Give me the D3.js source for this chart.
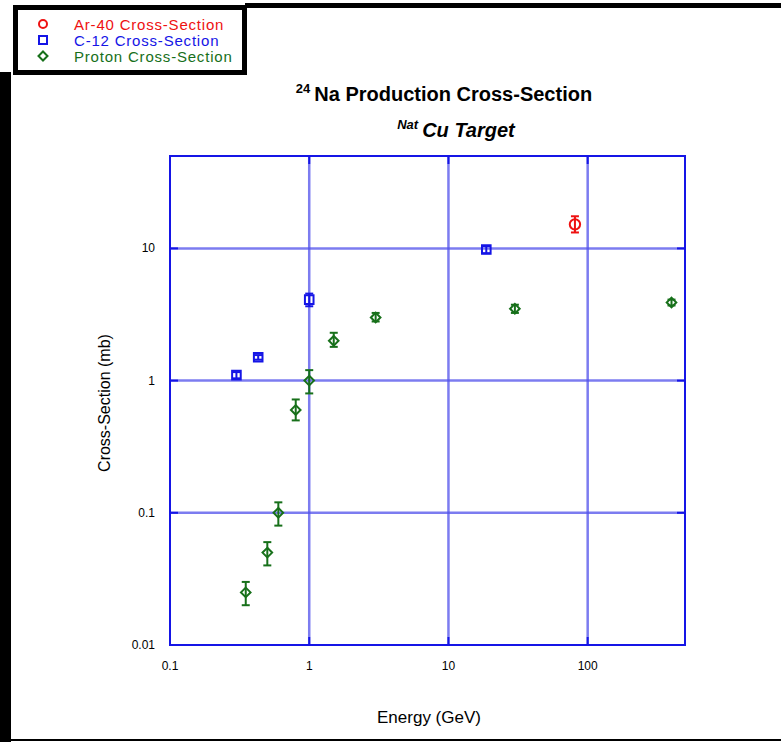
<!DOCTYPE html>
<html>
<head>
<meta charset="utf-8">
<script src="https://cdn.jsdelivr.net/npm/d3@7/dist/d3.min.js"></script>
<style>
  html, body { margin: 0; padding: 0; background: #fff; }
  svg { display: block; font-family: "Liberation Sans", Arial, sans-serif; }
</style>
</head>
<body>
<svg id="chart" width="781" height="742"></svg>
<script>
// 24Na production cross-section on a natural Cu target
const xTicks = [0.1, 1, 10, 100];
const yTicks = [0.01, 0.1, 1, 10];
const xTickLabels = ["0.1", "1", "10", "100"];
const yTickLabels = ["0.01", "0.1", "1", "10"];

const arEnergy = [81];
const arSigma  = [15.2];
const arLo     = [13.2];
const arHi     = [17.5];

const cEnergy = [0.3, 0.43, 1.0, 18.7];
const cSigma  = [1.1, 1.5, 4.1, 9.8];
const cLo     = [1.04, 1.44, 3.65, 9.2];
const cHi     = [1.16, 1.56, 4.55, 10.4];

const pEnergy = [0.35, 0.5, 0.6, 0.8, 1.0, 1.5, 3.0, 30, 400];
const pSigma  = [0.025, 0.05, 0.1, 0.6, 1.0, 2.0, 3.0, 3.5, 3.9];
const pLo     = [0.02, 0.04, 0.08, 0.5, 0.8, 1.8, 2.8, 3.25, 3.7];
const pHi     = [0.03, 0.06, 0.12, 0.72, 1.2, 2.3, 3.25, 3.75, 4.1];

const seriesNames  = ["Ar-40 Cross-Section", "C-12 Cross-Section", "Proton Cross-Section"];
const seriesColors = ["#ee1111", "#1515e6", "#17701a"];

const svg = d3.select("#chart");
const plot = { left: 170, right: 685, top: 156, bottom: 645 };

const x = d3.scaleLog().domain([0.1, 500]).range([plot.left, plot.right]);
const y = d3.scaleLog().domain([0.01, 50]).range([plot.bottom, plot.top]);

// marker shapes: circle, square, square-rotated diamond
const shapeCircle  = r => d3.symbol().type(d3.symbolCircle).size(Math.PI * r * r)();
const shapeSquare  = h => `M${-h},${-h}H${h}V${h}H${-h}Z`;
const shapeDiamond = h => `M0,${-h}L${h},0L0,${h}L${-h},0Z`;

// page frame
svg.append("rect").attr("x", 0).attr("y", 72).attr("width", 11).attr("height", 670).attr("fill", "#000");
svg.append("rect").attr("x", 245).attr("y", 3).attr("width", 536).attr("height", 5).attr("fill", "#000");
svg.append("rect").attr("x", 0).attr("y", 739).attr("width", 781).attr("height", 2).attr("fill", "#000");

// legend box
svg.append("rect").attr("x", 15.5).attr("y", 7.5).attr("width", 229).attr("height", 65)
  .attr("fill", "#fff").attr("stroke", "#000").attr("stroke-width", 5);

// gridlines
const gridColor = "rgba(80,80,235,0.75)";
svg.append("g").selectAll("line").data(xTicks.filter(d => d > 0.1)).join("line")
  .attr("x1", d => x(d)).attr("x2", d => x(d))
  .attr("y1", plot.top).attr("y2", plot.bottom)
  .attr("stroke", gridColor).attr("stroke-width", 2.5);
svg.append("g").selectAll("line").data(yTicks.filter(d => d > 0.01)).join("line")
  .attr("x1", plot.left).attr("x2", plot.right)
  .attr("y1", d => y(d)).attr("y2", d => y(d))
  .attr("stroke", gridColor).attr("stroke-width", 2.5);

// plot frame
svg.append("rect").attr("x", plot.left).attr("y", plot.top)
  .attr("width", plot.right - plot.left).attr("height", plot.bottom - plot.top)
  .attr("fill", "none").attr("stroke", "#1515e6").attr("stroke-width", 2);

// major ticks, drawn inward
const tickG = svg.append("g").attr("stroke", "#1515e6").attr("stroke-width", 2);
yTicks.forEach(t => {
  tickG.append("line").attr("x1", plot.left).attr("x2", plot.left + 8).attr("y1", y(t)).attr("y2", y(t));
  tickG.append("line").attr("x1", plot.right).attr("x2", plot.right - 8).attr("y1", y(t)).attr("y2", y(t));
});
xTicks.forEach(t => {
  tickG.append("line").attr("x1", x(t)).attr("x2", x(t)).attr("y1", plot.top).attr("y2", plot.top + 8);
  tickG.append("line").attr("x1", x(t)).attr("x2", x(t)).attr("y1", plot.bottom).attr("y2", plot.bottom - 8);
});

// tick labels
svg.append("g").selectAll("text").data(xTicks).join("text")
  .attr("x", d => x(d)).attr("y", 670).attr("text-anchor", "middle")
  .attr("font-size", 12).attr("fill", "#000")
  .text((d, i) => xTickLabels[i]);
svg.append("g").selectAll("text").data(yTicks).join("text")
  .attr("x", 155).attr("y", d => y(d) + 4).attr("text-anchor", "end")
  .attr("font-size", 12).attr("fill", "#000")
  .text((d, i) => yTickLabels[i]);

// axis titles
svg.append("text").attr("x", 429).attr("y", 723).attr("text-anchor", "middle")
  .attr("font-size", 17).text("Energy (GeV)");
svg.append("text").attr("transform", "translate(110,403) rotate(-90)")
  .attr("text-anchor", "middle").attr("font-size", 16).text("Cross-Section (mb)");

// titles
const t1 = svg.append("text").attr("x", 444).attr("y", 101).attr("text-anchor", "middle")
  .attr("font-weight", "bold").attr("font-size", 20);
t1.append("tspan").attr("font-size", 13).attr("dy", -8).text("24");
t1.append("tspan").attr("dy", 8).text("\u2009Na Production Cross-Section");
const t2 = svg.append("text").attr("x", 456).attr("y", 137).attr("text-anchor", "middle")
  .attr("font-weight", "bold").attr("font-style", "italic").attr("font-size", 20);
t2.append("tspan").attr("font-size", 13).attr("dy", -8).text("Nat");
t2.append("tspan").attr("dy", 8).text("\u2009Cu Target");

// data series
function errorBars(g, ex, lo, hi, color) {
  const cap = 4;
  const idx = d3.range(ex.length);
  g.selectAll("line.v").data(idx).join("line").attr("class", "v")
    .attr("x1", i => x(ex[i])).attr("x2", i => x(ex[i]))
    .attr("y1", i => y(lo[i])).attr("y2", i => y(hi[i]))
    .attr("stroke", color).attr("stroke-width", 2);
  g.selectAll("line.hi").data(idx).join("line").attr("class", "hi")
    .attr("x1", i => x(ex[i]) - cap).attr("x2", i => x(ex[i]) + cap)
    .attr("y1", i => y(hi[i])).attr("y2", i => y(hi[i]))
    .attr("stroke", color).attr("stroke-width", 2);
  g.selectAll("line.lo").data(idx).join("line").attr("class", "lo")
    .attr("x1", i => x(ex[i]) - cap).attr("x2", i => x(ex[i]) + cap)
    .attr("y1", i => y(lo[i])).attr("y2", i => y(lo[i]))
    .attr("stroke", color).attr("stroke-width", 2);
}

const markerPaths = [shapeCircle(5.2), shapeSquare(4.3), shapeDiamond(4.8)];
const legendPaths = [shapeCircle(4), shapeSquare(4), shapeDiamond(4.5)];

const series = [
  { e: arEnergy, s: arSigma, lo: arLo, hi: arHi },
  { e: cEnergy,  s: cSigma,  lo: cLo,  hi: cHi },
  { e: pEnergy,  s: pSigma,  lo: pLo,  hi: pHi }
];

series.forEach((ser, k) => {
  const g = svg.append("g");
  errorBars(g, ser.e, ser.lo, ser.hi, seriesColors[k]);
  g.selectAll("path").data(d3.range(ser.e.length)).join("path")
    .attr("transform", i => `translate(${x(ser.e[i])},${y(ser.s[i])})`)
    .attr("d", markerPaths[k])
    .attr("fill", "none").attr("stroke", seriesColors[k]).attr("stroke-width", 2);
});

// legend entries
const legend = svg.append("g");
seriesNames.forEach((name, k) => {
  const ly = 24 + k * 16;
  legend.append("path").attr("transform", `translate(43,${ly})`)
    .attr("d", legendPaths[k])
    .attr("fill", "none").attr("stroke", seriesColors[k]).attr("stroke-width", 2);
  legend.append("text").attr("x", 74).attr("y", ly + 5.5)
    .attr("font-size", 15).attr("letter-spacing", 0.8)
    .attr("fill", seriesColors[k]).text(name);
});
</script>
</body>
</html>
